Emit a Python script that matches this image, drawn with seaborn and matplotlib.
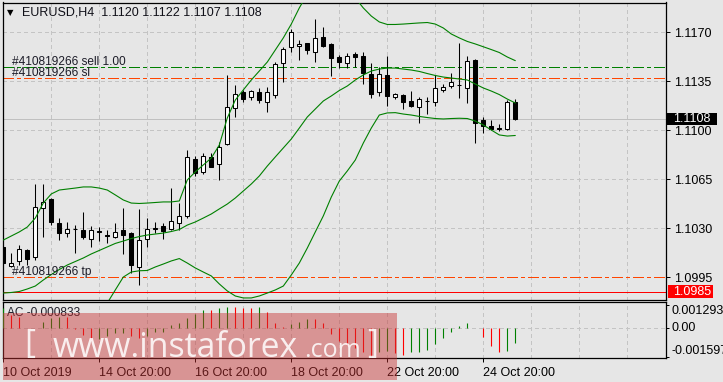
import numpy as np
import pandas as pd
import matplotlib
matplotlib.use("Agg")
import matplotlib.pyplot as plt
import matplotlib.transforms as mtransforms
from matplotlib.patches import Rectangle
import seaborn as sns

# ---------------- data ----------------
header_text = "EURUSD,H4  1.1120 1.1122 1.1107 1.1108"
date_ticks = [0, 12, 24, 36, 48, 60]
date_labels = ["10 Oct 2019", "14 Oct 20:00", "16 Oct 20:00", "18 Oct 20:00",
               "22 Oct 20:00", "24 Oct 20:00"]
price_ticks = [1.0995, 1.1030, 1.1065, 1.1100, 1.1135, 1.1170]

open_ = [1.10170, 1.10032, 1.10068, 1.10146, 1.10094, 1.10444, 1.10508, 1.10337, 1.10265, 1.10295,
         1.10289, 1.10222, 1.10279, 1.10253, 1.10237, 1.10289, 1.10265, 1.10027, 1.10222, 1.10298,
         1.10315, 1.10294, 1.10341, 1.10389, 1.10793, 1.10705, 1.10807, 1.10757, 1.10900, 1.11157,
         1.11271, 1.11235, 1.11271, 1.11204, 1.11252, 1.11478, 1.11592, 1.11601, 1.11621, 1.11561,
         1.11668, 1.11616, 1.11521, 1.11478, 1.11544, 1.11530, 1.11402, 1.11271, 1.11395, 1.11235,
         1.11250, 1.11209, 1.11168, 1.11209, 1.11200, 1.11288, 1.11316, 1.11325, 1.11304, 1.11502,
         1.11073, 1.11031, 1.11014, 1.11007, 1.11200]
high_ = [1.10182, 1.10123, 1.10182, 1.10153, 1.10615, 1.10615, 1.10515, 1.10372, 1.10348, 1.10324,
         1.10415, 1.10317, 1.10312, 1.10289, 1.10337, 1.10444, 1.10274, 1.10436, 1.10372, 1.10348,
         1.10337, 1.10586, 1.10481, 1.10859, 1.10817, 1.10836, 1.10836, 1.10919, 1.11395, 1.11323,
         1.11288, 1.11288, 1.11300, 1.11307, 1.11489, 1.11596, 1.11721, 1.11644, 1.11625, 1.11792,
         1.11735, 1.11625, 1.11537, 1.11549, 1.11561, 1.11561, 1.11478, 1.11449, 1.11530, 1.11268,
         1.11257, 1.11283, 1.11240, 1.11235, 1.11395, 1.11330, 1.11407, 1.11621, 1.11530, 1.11509,
         1.11097, 1.11073, 1.11045, 1.11216, 1.11220]
low_ = [1.10039, 1.10028, 1.10039, 1.10039, 1.10075, 1.10241, 1.10324, 1.10217, 1.10237, 1.10123,
        1.10228, 1.10165, 1.10212, 1.10194, 1.10235, 1.10115, 1.09980, 1.09896, 1.10165, 1.10265,
        1.10222, 1.10289, 1.10289, 1.10372, 1.10674, 1.10688, 1.10736, 1.10645, 1.10895, 1.11097,
        1.11204, 1.11216, 1.11193, 1.11133, 1.11233, 1.11347, 1.11561, 1.11502, 1.11544, 1.11489,
        1.11596, 1.11387, 1.11442, 1.11442, 1.11454, 1.11330, 1.11228, 1.11247, 1.11176, 1.11221,
        1.11150, 1.11164, 1.11054, 1.11116, 1.11176, 1.11275, 1.11300, 1.11233, 1.11197, 1.10912,
        1.10983, 1.11002, 1.10997, 1.11002, 1.11070]
close_ = [1.10051, 1.10051, 1.10151, 1.10080, 1.10455, 1.10491, 1.10348, 1.10269, 1.10298, 1.10299,
          1.10237, 1.10289, 1.10272, 1.10244, 1.10272, 1.10251, 1.10039, 1.10217, 1.10298, 1.10300,
          1.10284, 1.10353, 1.10386, 1.10807, 1.10693, 1.10817, 1.10740, 1.10883, 1.11168, 1.11257,
          1.11223, 1.11280, 1.11216, 1.11271, 1.11471, 1.11578, 1.11703, 1.11616, 1.11573, 1.11661,
          1.11601, 1.11514, 1.11489, 1.11528, 1.11521, 1.11407, 1.11257, 1.11402, 1.11247, 1.11257,
          1.11200, 1.11176, 1.11223, 1.11211, 1.11300, 1.11307, 1.11342, 1.11321, 1.11494, 1.11054,
          1.11031, 1.11007, 1.11012, 1.11200, 1.11080]

bb_upper = [1.10217, 1.10246, 1.10275, 1.10310, 1.10374, 1.10481, 1.10546, 1.10574, 1.10581, 1.10588,
            1.10596, 1.10596, 1.10588, 1.10574, 1.10539, 1.10503, 1.10481, 1.10478, 1.10481, 1.10485,
            1.10489, 1.10489, 1.10496, 1.10646, 1.10703, 1.10753, 1.10802, 1.10895, 1.11088, 1.11216,
            1.11288, 1.11359, 1.11423, 1.11487, 1.11573, 1.11659, 1.11758, 1.11873, 1.11972, 1.12030,
            1.12058, 1.12058, 1.12044, 1.12001, 1.11944, 1.11873, 1.11815, 1.11773, 1.11755, 1.11755,
            1.11758, 1.11762, 1.11766, 1.11769, 1.11758, 1.11730, 1.11687, 1.11659, 1.11634, 1.11616,
            1.11596, 1.11576, 1.11555, 1.11523, 1.11497]
bb_middle = [1.09839, 1.09843, 1.09850, 1.09868, 1.09889, 1.09932, 1.09971, 1.10007, 1.10039, 1.10064,
             1.10089, 1.10118, 1.10143, 1.10168, 1.10193, 1.10210, 1.10228, 1.10242, 1.10253, 1.10260,
             1.10267, 1.10278, 1.10292, 1.10324, 1.10346, 1.10374, 1.10403, 1.10439, 1.10474, 1.10517,
             1.10567, 1.10617, 1.10674, 1.10745, 1.10810, 1.10874, 1.10938, 1.11016, 1.11095, 1.11152,
             1.11209, 1.11245, 1.11284, 1.11316, 1.11359, 1.11395, 1.11423, 1.11437, 1.11444, 1.11444,
             1.11437, 1.11430, 1.11420, 1.11405, 1.11391, 1.11380, 1.11373, 1.11366, 1.11359, 1.11330,
             1.11302, 1.11280, 1.11255, 1.11223, 1.11195]
bb_lower = [np.nan] * 13 + [
            1.09768, 1.09861, 1.09953, 1.09989, 1.09998, 1.10000, 1.10025, 1.10046, 1.10068, 1.10085,
            1.10053, 1.10018, 1.09989, 1.09961, 1.09904, 1.09854, 1.09818, 1.09804, 1.09804, 1.09818,
            1.09839, 1.09861, 1.09889, 1.09968, 1.10053, 1.10160, 1.10275, 1.10389, 1.10524, 1.10638,
            1.10710, 1.10788, 1.10909, 1.11016, 1.11109, 1.11124, 1.11126, 1.11116, 1.11109, 1.11099,
            1.11091, 1.11084, 1.11081, 1.11084, 1.11086, 1.11084, 1.11066, 1.11038, 1.11002, 1.10967,
            1.10959, 1.10963]

ac_values = [0.00114, 0.00075, 0.00065, 0.00001, 0.00004, 0.00037, 0.00056, 0.00066, 0.00063, -0.00002,
             -0.00038, -0.00062, -0.00058, -0.00042, -0.00028, -0.00026, -0.00041, -0.00056, -0.00041, -0.00021,
             -0.00019, 0.00019, 0.00028, 0.00056, 0.00079, 0.00103, 0.00101, 0.00112, 0.00121, 0.00120,
             0.00116, 0.00113, 0.00121, 0.00093, 0.00028, 0.00009, 0.00022, 0.00037, 0.00052, 0.00051,
             0.00028, -0.00034, -0.00071, -0.00094, -0.00112, -0.00132, -0.001597, -0.00132, -0.00128, -0.00141,
             -0.00150, -0.00135, -0.00131, -0.00122, -0.00090, -0.00053, -0.00022, 0.00015, 0.00031, 0.00003,
             -0.00047, -0.00098, -0.00135, -0.00126, -0.000833]
ac_label = "AC -0.000833"
ac_ticks = [0.001293, 0.0, -0.001597]
ac_tick_labels = ["0.001293", "0.00", "-0.001597"]

sell_price, sell_label = 1.1145, "#410819266 sell 1.00"
sl_price, sl_label = 1.1137, "#410819266 sl"
tp_price, tp_label = 1.0995, "#410819266 tp"
bid_price = 1.1108
alert_price = 1.0985
watermark_main, watermark_tail = "www.instaforex", ".com"

# ---------------- style ----------------
sns.set_theme(style="white")
BG = "#e6e6e6"
plt.rcParams["font.family"] = ["Liberation Sans", "DejaVu Sans"]
plt.rcParams["lines.scale_dashes"] = False
plt.rcParams["axes.facecolor"] = BG
plt.rcParams["figure.facecolor"] = BG

W, H = 723, 382
fig = plt.figure(figsize=(W / 100, H / 100), dpi=100)


def fx(px):
    return px / W


def fy(py):
    return 1 - py / H


LEFT, RIGHT = 2.5, 666.0
MAIN_TOP, MAIN_BOT = 2.5, 300.0
AC_TOP, AC_BOT = 302.3, 357.7
BAR0_X, BAR_W = 3.3, 8.0

ax = fig.add_axes([fx(LEFT), fy(MAIN_BOT), (RIGHT - LEFT) / W, (MAIN_BOT - MAIN_TOP) / H])
ax2 = fig.add_axes([fx(LEFT), fy(AC_BOT), (RIGHT - LEFT) / W, (AC_BOT - AC_TOP) / H])

XL = ((LEFT - BAR0_X) / BAR_W, (RIGHT - BAR0_X) / BAR_W)
K = 0.00007134  # price per pixel
P0 = 1.119296   # price at pixel row 0
YL = (P0 - K * MAIN_BOT, P0 - K * MAIN_TOP)
AK = 0.0000562
AC_ZERO = 328.3
AYL = (-(AC_BOT - AC_ZERO) * AK, (AC_ZERO - AC_TOP) * AK)

GRID_KW = dict(color="#c4c4c4", lw=0.7, linestyle=(0, (2.2, 2.2)), zorder=0.5,
               antialiased=False)
grid_pos = list(range(6, 83, 6))

idx = np.arange(len(open_))
o = np.array(open_)
c = np.array(close_)
h = np.array(high_)
l = np.array(low_)
up = c >= o

# grid
for g in grid_pos:
    ax.axvline(g, **GRID_KW)
    ax2.axvline(g, **GRID_KW)
for p in price_ticks:
    if abs(p - tp_price) > 1e-6:
        ax.axhline(p, **GRID_KW)
ax2.axhline(0, **GRID_KW)

# order lines
DD = (0, (7.5, 2.2, 2.2, 2.2))
LKW = dict(antialiased=False, zorder=1.2, lw=0.7)
ax.axhline(bid_price, color="#c0c0c0", antialiased=False, lw=0.7, zorder=0.8)
ax.axhline(sell_price, color="#008000", linestyle=DD, **LKW)
ax.axhline(sl_price, color="#ff4500", linestyle=DD, **LKW)
ax.axhline(tp_price, color="#ff4500", linestyle=DD, **LKW)
ax.axhline(alert_price, color="#ff0000", **LKW)

# candles
ax.vlines(idx, l, h, color="black", lw=0.75, zorder=3)
body_bot = np.minimum(o, c)
body_h = np.maximum(np.abs(c - o), 0.000005)
ax.bar(idx[up], body_h[up], bottom=body_bot[up], width=0.5, color="white",
       edgecolor="black", linewidth=0.75, zorder=4)
ax.bar(idx[~up], body_h[~up], bottom=body_bot[~up], width=0.5, color="black",
       edgecolor="black", linewidth=0.75, zorder=4)

# Bollinger bands
bands = pd.DataFrame({"bar": idx, "upper": bb_upper, "middle": bb_middle, "lower": bb_lower})
for col in ["upper", "middle", "lower"]:
    sns.lineplot(data=bands, x="bar", y=col, ax=ax, color="#008000", lw=0.8,
                 estimator=None, zorder=5)

ax.set_xlim(XL)
ax.set_ylim(YL)
ax.set_xlabel("")
ax.set_ylabel("")
ax.set_xticks([])
ax.yaxis.tick_right()
ax.set_yticks(price_ticks)
ax.set_yticklabels([f"{p:.4f}" for p in price_ticks])
ax.tick_params(axis="y", direction="out", length=2.9, width=0.72, pad=3.0,
               labelsize=9, colors="black", right=True, left=False)
for sp in ax.spines.values():
    sp.set_color("black")
    sp.set_linewidth(0.9)
    sp.set_visible(True)

# order labels
pxa = 1.0 / (RIGHT - LEFT)
for price, lab in [(sell_price, sell_label), (sl_price, sl_label), (tp_price, tp_label)]:
    ax.annotate(lab, xy=(9.2 * pxa, price), xycoords=("axes fraction", "data"),
                xytext=(0, 2), textcoords="offset pixels", va="baseline", ha="left",
                fontsize=8.6, color="#1c1c28", zorder=6)

# price tags
trans = mtransforms.blended_transform_factory(ax.transAxes, ax.transData)
ax.add_patch(Rectangle((1.0, bid_price - 6.3 * K), 51 * pxa, 12.6 * K, transform=trans,
                       facecolor="black", edgecolor="none", clip_on=False, zorder=8))
ax.text(1.0 + 7 * pxa, bid_price, f"{bid_price:.4f}", transform=trans, color="white",
        va="center", ha="left", fontsize=9, zorder=9, clip_on=False)
ax.add_patch(Rectangle((1.0 + 2 * pxa, alert_price - 6.2 * K), 45 * pxa, 12.4 * K, transform=trans,
                       facecolor="#ff0000", edgecolor="none", clip_on=False, zorder=8))
ax.text(1.0 + 7 * pxa, alert_price, f"{alert_price:.4f}", transform=trans, color="white",
        va="center", ha="left", fontsize=9, zorder=9, clip_on=False)

# AC indicator
ac = np.array(ac_values)
ac_colors = ["#008000" if (i == 0 or ac[i] > ac[i - 1]) else "#ff0000" for i in range(len(ac))]
ax2.vlines(idx, 0, ac, colors=ac_colors, lw=0.8, zorder=3)
ax2.set_xlim(XL)
ax2.set_ylim(AYL)
ax2.yaxis.tick_right()
ax2.set_yticks(ac_ticks)
ax2.set_yticklabels(ac_tick_labels)
ax2.tick_params(axis="y", direction="out", length=2.2, width=0.72, pad=2.0,
                labelsize=9, colors="black", right=True, left=False)
vas = ["top", "center", "bottom"]
for t, va in zip(ax2.get_yticklabels(), vas):
    t.set_va(va)
ax2.set_xticks(date_ticks)
ax2.set_xticklabels(date_labels, ha="left")
ax2.tick_params(axis="x", direction="out", length=2.9, width=0.72, pad=3.5,
                labelsize=9, colors="black", bottom=True)
for sp in ax2.spines.values():
    sp.set_color("black")
    sp.set_linewidth(0.9)
    sp.set_visible(True)
ax2.text(4.8 * pxa, 1 - 11.0 / (AC_BOT - AC_TOP), ac_label, transform=ax2.transAxes,
         va="center", ha="left", fontsize=8.6, color="#1c1c28", zorder=6)

# header
fig.text(fx(6.5), fy(12.8), "\u25BC", fontsize=6, va="center", ha="left",
         family="DejaVu Sans", color="black")
fig.text(fx(22), fy(12.5), header_text, fontsize=9, va="center", ha="left", color="#101018")

# watermark
fig.add_artist(Rectangle((fx(2.7), fy(380)), (397.3 - 2.7) / W, (380 - 313.3) / H,
                         transform=fig.transFigure, facecolor="#c83232", alpha=0.45,
                         edgecolor="none", zorder=10))
wm = dict(color="white", alpha=0.85, zorder=11, family=["Open Sans", "DejaVu Sans"])
fig.text(fx(24), fy(345), "[", fontsize=24, va="center", ha="left", **wm)
fig.text(fx(53), fy(357), watermark_main, fontsize=24.3, va="baseline", ha="left", **wm)
fig.text(fx(304), fy(357), watermark_tail, fontsize=18, va="baseline", ha="left", **wm)
fig.text(fx(367), fy(345), "]", fontsize=24, va="center", ha="left", **wm)

fig.savefig("out.png", dpi=100, facecolor=BG)
